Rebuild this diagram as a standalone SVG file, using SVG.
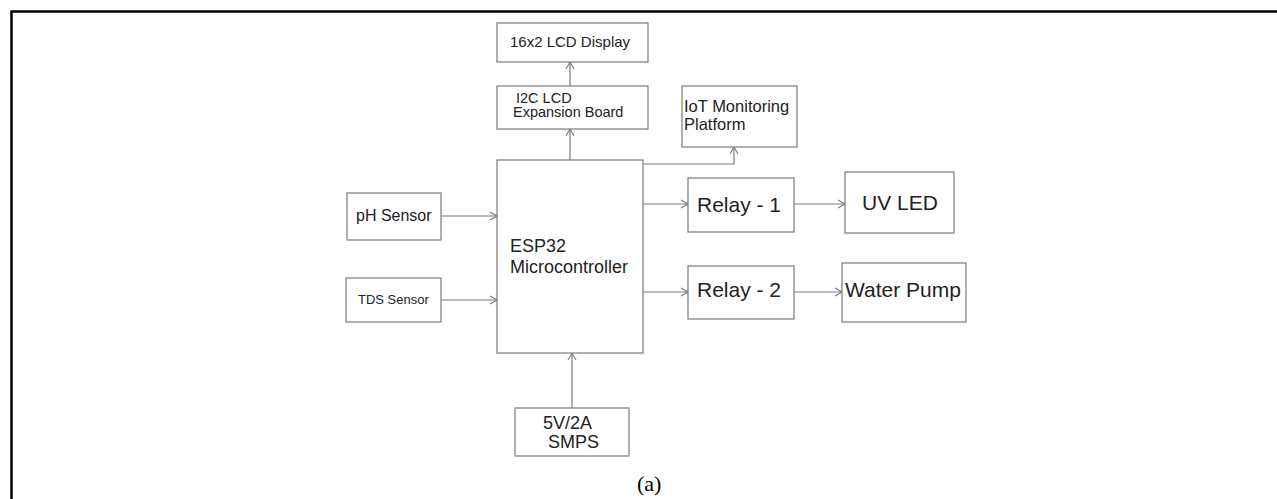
<svg xmlns="http://www.w3.org/2000/svg" width="1277" height="499" viewBox="0 0 1277 499">
<style>
.box{fill:#fff;stroke:#7a7a7a;stroke-width:1.2}
.t{font-family:"Liberation Sans",Arial,sans-serif;fill:#222}
.c{fill:none;stroke:#7a7a7a;stroke-width:1.2}
</style>
<defs>
<marker id="ah" viewBox="0 0 10 10" refX="10" refY="5" markerWidth="10" markerHeight="10" markerUnits="userSpaceOnUse" orient="auto">
<path d="M3,1 L10,5 L3,9" fill="none" stroke="#7a7a7a" stroke-width="1.1"/>
</marker>
</defs>
<rect width="1277" height="499" fill="#fff"/>
<path d="M11.5,499 V11.5 H1277" fill="none" stroke="#000" stroke-width="2.5"/>
<g id="connectors">
<path class="c" d="M570,86 V62" marker-end="url(#ah)"/>
<path class="c" d="M570,160 V129" marker-end="url(#ah)"/>
<path class="c" d="M643,164 H734 V147" marker-end="url(#ah)"/>
<path class="c" d="M441,216 H497" marker-end="url(#ah)"/>
<path class="c" d="M441,300 H497" marker-end="url(#ah)"/>
<path class="c" d="M643,204 H688" marker-end="url(#ah)"/>
<path class="c" d="M794,204 H845" marker-end="url(#ah)"/>
<path class="c" d="M643,292 H688" marker-end="url(#ah)"/>
<path class="c" d="M794,292 H842" marker-end="url(#ah)"/>
<path class="c" d="M572,408 V353" marker-end="url(#ah)"/>
</g>
<g id="lcd">
<rect class="box" x="497" y="23" width="151" height="39"/>
<text class="t" x="510" y="47" font-size="15">16x2 LCD Display</text>
</g>
<g id="i2c">
<rect class="box" x="497" y="86" width="151" height="43"/>
<text class="t" x="516" y="103" font-size="14.5">I2C LCD</text>
<text class="t" x="513" y="117" font-size="14.5">Expansion Board</text>
</g>
<g id="iot">
<rect class="box" x="682" y="86" width="115" height="61"/>
<text class="t" x="684" y="112" font-size="16.5">IoT Monitoring</text>
<text class="t" x="684" y="130" font-size="16.5">Platform</text>
</g>
<g id="esp32">
<rect class="box" x="497" y="160" width="146" height="193"/>
<text class="t" x="510" y="252" font-size="18">ESP32</text>
<text class="t" x="510" y="273" font-size="18">Microcontroller</text>
</g>
<g id="ph">
<rect class="box" x="347" y="193" width="94" height="47"/>
<text class="t" x="356" y="221" font-size="16">pH Sensor</text>
</g>
<g id="tds">
<rect class="box" x="346" y="278" width="95" height="44"/>
<text class="t" x="358" y="304" font-size="13">TDS Sensor</text>
</g>
<g id="relay1">
<rect class="box" x="688" y="178" width="106" height="54"/>
<text class="t" x="697" y="212" font-size="21">Relay - 1</text>
</g>
<g id="uvled">
<rect class="box" x="845" y="172" width="109" height="61"/>
<text class="t" x="862" y="210" font-size="21">UV LED</text>
</g>
<g id="relay2">
<rect class="box" x="688" y="266" width="106" height="53"/>
<text class="t" x="697" y="297" font-size="21">Relay - 2</text>
</g>
<g id="pump">
<rect class="box" x="842" y="263" width="124" height="59"/>
<text class="t" x="845" y="297" font-size="21">Water Pump</text>
</g>
<g id="smps">
<rect class="box" x="515" y="408" width="114" height="48"/>
<text class="t" x="543" y="429" font-size="18">5V/2A</text>
<text class="t" x="548" y="448" font-size="18">SMPS</text>
</g>
<text x="637" y="491" font-family="Liberation Serif,'Times New Roman',serif" font-size="22" fill="#000">(a)</text>
</svg>
